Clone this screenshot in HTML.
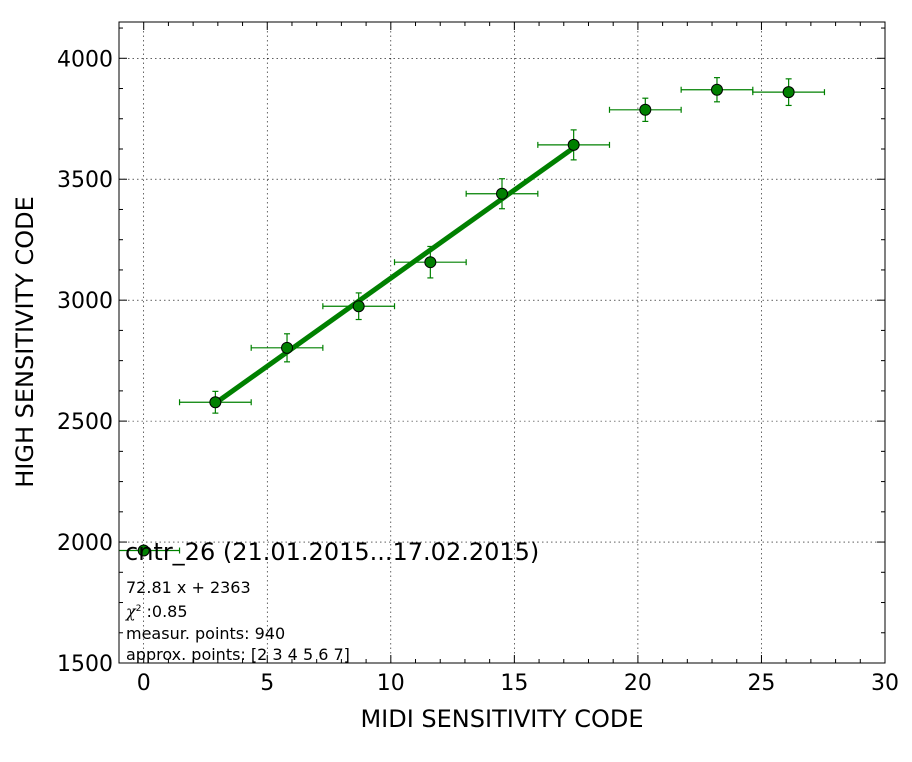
<!DOCTYPE html>
<html><head><meta charset="utf-8"><style>
body{margin:0;background:#fff}
svg{display:block;font-family:"DejaVu Sans","Liberation Sans",sans-serif}
</style></head><body>
<svg id="chart" width="912" height="762"></svg>
<script>
const xs=[0,2.9,5.8,8.7,11.6,14.5,17.4,20.3,23.2,26.1];
const ys=[1965,2578,2803,2975,3157,3440,3642,3787,3870,3860];
const xerr=[1.45,1.45,1.45,1.45,1.45,1.45,1.45,1.45,1.45,1.45];
const yerr=[15,45,58,55,65,62,62,48,50,55];
const fitSlope=72.81, fitIntercept=2363, fitRange=[2.9,17.4];
const xTicks=[0,5,10,15,20,25,30];
const yTicks=[1500,2000,2500,3000,3500,4000];
const L=119,R=885,T=22,B=663,x0=-1,x1=30,y0=1500,y1=4150;
const X=v=>L+(v-x0)/(x1-x0)*(R-L);
const Y=v=>B-(v-y0)/(y1-y0)*(B-T);
const svg=document.getElementById('chart');
const NS='http://www.w3.org/2000/svg';
function mk(t,a,p){const e=document.createElementNS(NS,t);for(const k in a)e.setAttribute(k,a[k]);(p||svg).appendChild(e);return e;}
const defs=mk('defs',{});
const cp=mk('clipPath',{id:'clip'},defs);
mk('rect',{x:L,y:T,width:R-L,height:B-T},cp);
// grid
xTicks.forEach(v=>{if(v>x0&&v<x1){const g=mk('line',{x1:X(v),x2:X(v),y1:T,y2:B,stroke:'#000','stroke-width':0.6,'stroke-dasharray':'1.5,3'});

}});
yTicks.forEach(v=>{if(v>y0&&v<y1){const g=mk('line',{x1:L,x2:R,y1:Y(v),y2:Y(v),stroke:'#000','stroke-width':0.6,'stroke-dasharray':'1.5,3'});

}});
// ticks
for(let v=0;v<=30;v++){[B,T].forEach((yy,i)=>{const len=v%5===0?8:4;const t=mk('line',{x1:X(v),x2:X(v),y1:yy,y2:i?yy+len:yy-len,stroke:'#000','stroke-width':1});

});}
for(let v=1500;v<=4150;v+=125){[L,R].forEach((xx,i)=>{const len=v%500===0?8:4;const t=mk('line',{x1:xx,x2:i?xx-len:xx+len,y1:Y(v),y2:Y(v),stroke:'#000','stroke-width':1});

});}
// tick labels
xTicks.forEach(v=>{const t=mk('text',{x:X(v),y:B+27,'text-anchor':'middle','font-size':22});t.textContent=v;

});
yTicks.forEach(v=>{const t=mk('text',{x:L-6,y:Y(v)+8,'text-anchor':'end','font-size':22});t.textContent=v;

});
const plot=mk('g',{'clip-path':'url(#clip)'});


// fit line
const fl=mk('line',{x1:X(fitRange[0]),y1:Y(fitSlope*fitRange[0]+fitIntercept),x2:X(fitRange[1]),y2:Y(fitSlope*fitRange[1]+fitIntercept),stroke:'#008000','stroke-width':5},plot);


// points
xs.forEach((xv,i)=>{const g=mk('g',{},plot);


const c='#008000';
mk('line',{x1:X(xv-xerr[i]),x2:X(xv+xerr[i]),y1:Y(ys[i]),y2:Y(ys[i]),stroke:c,'stroke-width':1.2},g);
mk('line',{x1:X(xv-xerr[i]),x2:X(xv-xerr[i]),y1:Y(ys[i])-3,y2:Y(ys[i])+3,stroke:c,'stroke-width':1.2},g);
mk('line',{x1:X(xv+xerr[i]),x2:X(xv+xerr[i]),y1:Y(ys[i])-3,y2:Y(ys[i])+3,stroke:c,'stroke-width':1.2},g);
mk('line',{x1:X(xv),x2:X(xv),y1:Y(ys[i]-yerr[i]),y2:Y(ys[i]+yerr[i]),stroke:c,'stroke-width':1.2},g);
mk('line',{x1:X(xv)-3,x2:X(xv)+3,y1:Y(ys[i]-yerr[i]),y2:Y(ys[i]-yerr[i]),stroke:c,'stroke-width':1.2},g);
mk('line',{x1:X(xv)-3,x2:X(xv)+3,y1:Y(ys[i]+yerr[i]),y2:Y(ys[i]+yerr[i]),stroke:c,'stroke-width':1.2},g);
mk('circle',{cx:X(xv),cy:Y(ys[i]),r:5.5,fill:c,stroke:'#000','stroke-width':1},g);});
// frame
const fr=mk('rect',{x:L,y:T,width:R-L,height:B-T,fill:'none',stroke:'#000','stroke-width':1});


// annotations
function txt(s,x,y,fs,name){const t=mk('text',{x:x,y:y,'font-size':fs});t.textContent=s;

return t;}
txt('cntr_26 (21.01.2015...17.02.2015)',125,560,24,'chart-title');
txt('72.81 x + 2363',126,593,16,'fit-equation');
const chi=mk('text',{x:126,y:617,'font-size':16});


chi.innerHTML='<tspan font-family="DejaVu Serif,serif" font-style="italic">χ</tspan><tspan font-size="9" dy="-6">2</tspan><tspan dy="6"> :0.85</tspan>';
txt('measur. points: 940',126,639,16,'measurement-points');
txt('approx. points: [2 3 4 5 6 7]',126,660,16,'approx-points');
const xl=txt('MIDI SENSITIVITY CODE',502,727,24,'x-axis-title');xl.setAttribute('text-anchor','middle');
const yl=mk('text',{x:0,y:0,'font-size':24,'text-anchor':'middle',transform:'translate(33,342) rotate(-90)'});yl.textContent='HIGH SENSITIVITY CODE';


</script>
</body></html>
